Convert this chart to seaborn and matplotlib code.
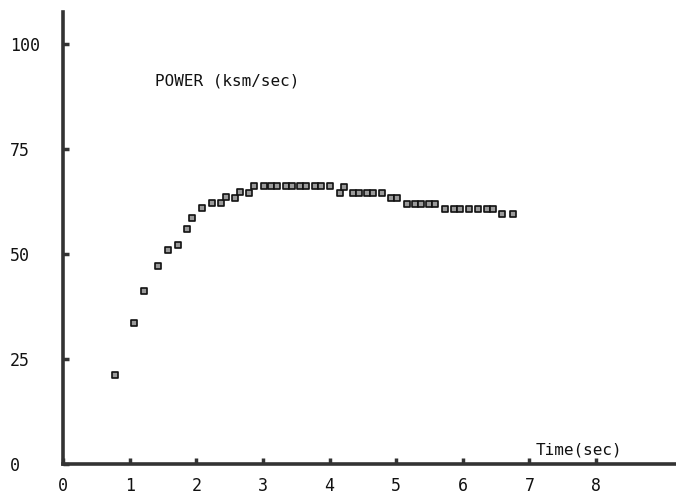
import matplotlib
matplotlib.use("Agg")
import matplotlib.pyplot as plt
import seaborn as sns
import pandas as pd

time_sec = [0.78, 1.06, 1.21, 1.43, 1.57, 1.72, 1.86, 1.93, 2.08, 2.23, 2.37, 2.44,
            2.58, 2.65, 2.79, 2.86, 3.01, 3.12, 3.21, 3.35, 3.44, 3.56, 3.65, 3.78,
            3.87, 4.00, 4.15, 4.22, 4.35, 4.44, 4.56, 4.65, 4.79, 4.92, 5.01, 5.16,
            5.29, 5.38, 5.50, 5.59, 5.74, 5.87, 5.96, 6.09, 6.23, 6.36, 6.45, 6.59, 6.75]
power = [21.3, 33.7, 41.2, 47.2, 50.9, 52.1, 55.9, 58.5, 61.0, 62.2, 62.2, 63.6,
         63.4, 64.7, 64.6, 66.2, 66.2, 66.2, 66.2, 66.2, 66.2, 66.2, 66.2, 66.2,
         66.2, 66.2, 64.6, 66.0, 64.6, 64.6, 64.6, 64.6, 64.4, 63.2, 63.2, 61.9,
         61.9, 61.9, 61.9, 61.9, 60.7, 60.7, 60.7, 60.7, 60.7, 60.7, 60.7, 59.4, 59.4]
x_ticks = [0, 1, 2, 3, 4, 5, 6, 7, 8]
y_ticks = [0, 25, 50, 75, 100]
x_tick_labels = ["0", "1", "2", "3", "4", "5", "6", "7", "8"]
y_tick_labels = ["0", "25", "50", "75", "100"]
title_text = "POWER (ksm/sec)"
x_label_text = "Time(sec)"

df = pd.DataFrame({"time": time_sec, "power": power})

sns.set_style("white")
plt.rcParams["font.family"] = ["DejaVu Sans Mono"]

fig = plt.figure(figsize=(6.76, 4.97), dpi=100)
ax = fig.add_axes([0.0932, 0.0654, 0.9068, 0.9105])

sns.scatterplot(data=df, x="time", y="power", ax=ax, marker="s", s=14,
                facecolor="#9a9a9a", edgecolor="#111111", linewidth=1.2, zorder=3)

ax.set_xlim(0, 9.2)
ax.set_ylim(0, 107.5)
ax.set_xticks(x_ticks)
ax.set_xticklabels(x_tick_labels)
ax.set_yticks(y_ticks)
ax.set_yticklabels(y_tick_labels)
ax.set_xlabel("")
ax.set_ylabel("")

for side in ["top", "right"]:
    ax.spines[side].set_visible(False)
for side in ["left", "bottom"]:
    ax.spines[side].set_linewidth(2.6)
    ax.spines[side].set_color("#333333")

ax.tick_params(axis="x", direction="in", length=4, width=2.5, color="#333333",
               pad=9, labelsize=12, labelcolor="#111111")
ax.tick_params(axis="y", direction="in", length=4, width=2.5, color="#333333",
               pad=38, labelsize=12, labelcolor="#111111")
ax.tick_params(axis="x", bottom=True)
ax.tick_params(axis="y", left=True)
for lbl in ax.get_yticklabels():
    lbl.set_horizontalalignment("left")

ax.text(1.38, 91, title_text, fontsize=11.5, color="#111111", ha="left", va="center")
ax.text(7.75, 3.5, x_label_text, fontsize=11.5, color="#111111", ha="center", va="center")

fig.savefig("out.png", dpi=100, facecolor="white")
